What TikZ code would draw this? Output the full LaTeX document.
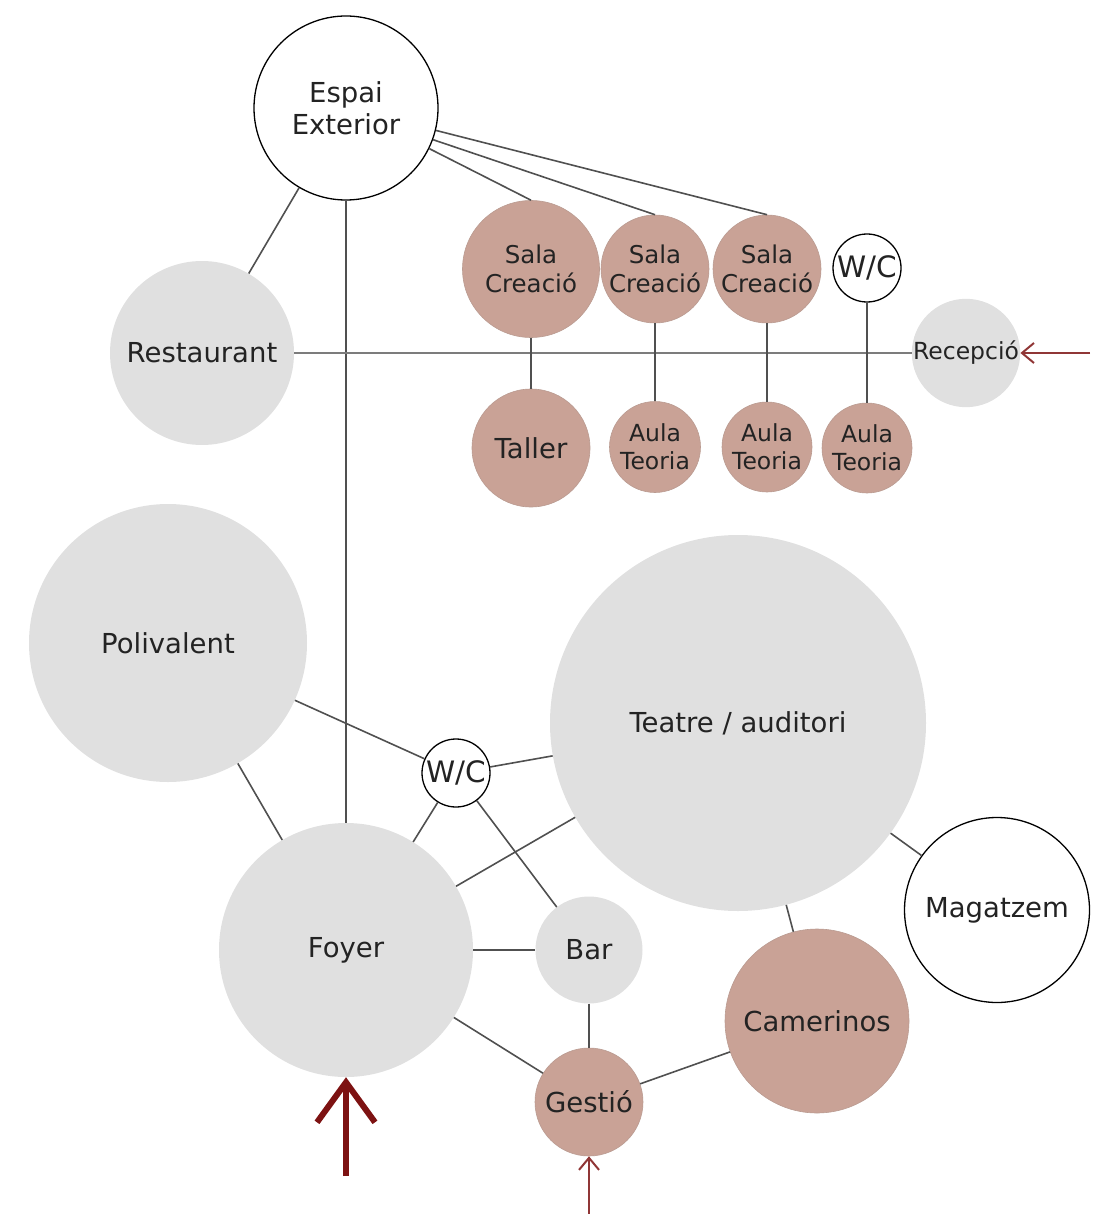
\documentclass[tikz,border=0pt]{standalone}
\usepackage{fontspec}
\setmainfont{DejaVu Sans}
\usepackage{xcolor}
\usetikzlibrary{arrows.meta}

\definecolor{bubble}{RGB}{224,224,224}
\definecolor{rosa}{RGB}{201,162,150}
\definecolor{ink}{RGB}{35,35,35}
\definecolor{wire}{RGB}{80,80,80}
\definecolor{entry}{RGB}{125,18,18}

\tikzset{
    room/.style={circle, inner sep=0pt, text=ink, align=center,
        font=\fontsize{27.5}{32}\selectfont},
    common/.style={room, fill=bubble},
    work/.style={room, fill=rosa, draw=rosa!80!gray, line width=0.6pt},
    blank/.style={room, fill=white, draw=black, line width=1.3pt},
    small/.style={font=\fontsize{23.5}{28}\selectfont},
    mid/.style={font=\fontsize{24.5}{29}\selectfont},
    wc/.style={font=\fontsize{29.5}{32}\selectfont},
    link/.style={draw=wire, line width=1.6pt},
    entrance/.style={draw=entry!85!white, line width=2pt,
        -{Straight Barb[length=12pt,width=20pt]}}
}

\begin{document}
\begin{tikzpicture}[x=1pt,y=-1pt]
        \useasboundingbox (0,0) rectangle (1096,1214);

        \node[blank, minimum size=184pt] (exterior) at (346,108) {Espai\\Exterior};
        \node[common, minimum size=184pt] (restaurant) at (202,353) {Restaurant};
        \node[work, mid, minimum size=137pt] (sala1) at (531,269) {Sala\\Creació};
        \node[work, mid, minimum size=108pt] (sala2) at (655,269) {Sala\\Creació};
        \node[work, mid, minimum size=108pt] (sala3) at (767,269) {Sala\\Creació};
        \node[blank, wc, minimum size=68pt] (wcup) at (867,268) {W/C};
        \node[common, small, minimum size=106pt] (recepcio) at (966,353) {Recepció};
        \node[work, minimum size=118pt] (taller) at (531,448) {Taller};
        \node[work, small, minimum size=91pt] (aula1) at (655,447) {Aula\\Teoria};
        \node[work, small, minimum size=90pt] (aula2) at (767,447) {Aula\\Teoria};
        \node[work, small, minimum size=90pt] (aula3) at (867,448) {Aula\\Teoria};

        \node[common, minimum size=278pt] (polivalent) at (168,643) {Polivalent};
        \node[common, minimum size=376pt] (teatre) at (738,723) {Teatre / auditori};
        \node[blank, wc, minimum size=68pt] (wcdown) at (456,773) {W/C};
        \node[common, minimum size=254pt] (foyer) at (346,950) {Foyer};
        \node[common, minimum size=107pt] (bar) at (589,950) {Bar};
        \node[blank, minimum size=185pt] (magatzem) at (997,910) {Magatzem};
        \node[work, minimum size=184pt] (camerinos) at (817,1021) {Camerinos};
        \node[work, minimum size=108pt] (gestio) at (589,1102) {Gestió};

        \coordinate (mainin) at (346,1176);
        \coordinate (staffin) at (589,1214);
        \coordinate (visitin) at (1090,353);

        \draw[link] (exterior) -- (restaurant);
        \draw[link] (exterior) -- (foyer);
        \draw[link] (exterior.-26) -- (sala1.north);
        \draw[link] (exterior.-20) -- (sala2.north);
        \draw[link] (exterior.-14) -- (sala3.north);
        \draw[link, draw=wire!75] (restaurant) -- (recepcio);
        \draw[link] (sala1) -- (taller);
        \draw[link] (sala2) -- (aula1);
        \draw[link] (sala3) -- (aula2);
        \draw[link] (wcup) -- (aula3);

        \draw[link] (polivalent) -- (wcdown);
        \draw[link] (polivalent) -- (foyer);
        \draw[link] (wcdown) -- (foyer);
        \draw[link] (wcdown) -- (teatre);
        \draw[link] (wcdown) -- (bar);
        \draw[link] (foyer) -- (teatre);
        \draw[link] (foyer) -- (bar);
        \draw[link] (foyer) -- (gestio);
        \draw[link] (bar) -- (gestio);
        \draw[link] (gestio) -- (camerinos);
        \draw[link] (teatre) -- (camerinos);
        \draw[link] (teatre) -- (magatzem);

        \draw[draw=entry, line width=6pt, -{Straight Barb[length=40pt,width=58pt]}] (mainin) -- (foyer.south);
        \draw[entrance] (staffin) -- (gestio.south);
        \draw[entrance] (visitin) -- (recepcio.east);
\end{tikzpicture}
\end{document}
